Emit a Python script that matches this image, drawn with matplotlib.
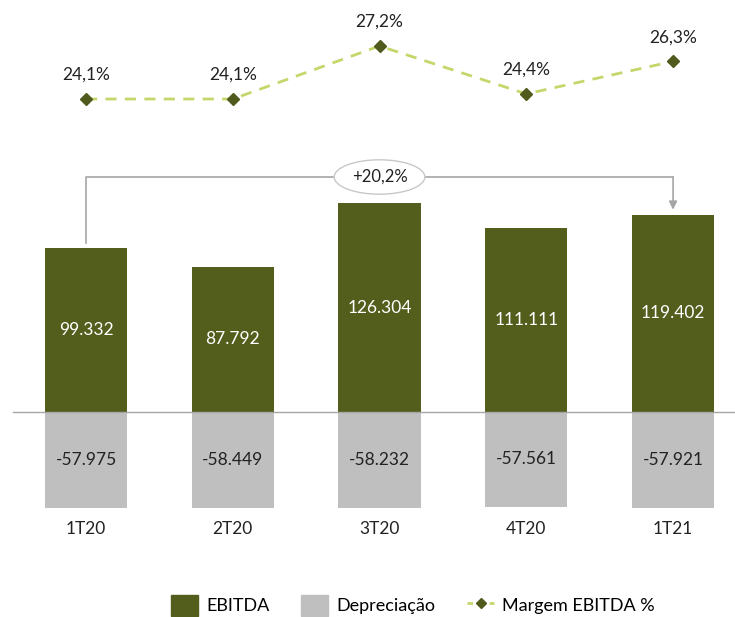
import matplotlib.pyplot as plt
from matplotlib.patches import Patch
from matplotlib.lines import Line2D
import numpy as np

plt.rcParams['font.family'] = ['Lato', 'DejaVu Sans']

# %% data
categories = ['1T20', '2T20', '3T20', '4T20', '1T21']
ebitda = [99.332, 87.792, 126.304, 111.111, 119.402]
depreciacao = [-57.975, -58.449, -58.232, -57.561, -57.921]
margem = [24.1, 24.1, 27.2, 24.4, 26.3]
variacao = '+20,2%'

c_ebitda = '#535E1C'
c_dep = '#BFBFBF'
c_line = '#C5D76B'
c_mark = '#4F5A1C'


def fmt_br(v):
    return '{:.3f}'.format(v)


def fmt_pct(v):
    return '{:.1f}%'.format(v).replace('.', ',')


# %%
fig = plt.figure(figsize=(7.35, 6.17), dpi=100)
ax = fig.add_axes([0, 0, 1, 1])
ax.set_xlim(-0.586, 4.422)
ax.set_ylim(-124.2, 249.5)
ax.axis('off')

x = np.arange(len(categories))
w = 0.56
ax.bar(x, ebitda, w, color=c_ebitda, zorder=2)
ax.bar(x, depreciacao, w, color=c_dep, zorder=2)
ax.axhline(0, xmin=0.018, xmax=1, color='#A6A6A6', lw=1, zorder=3)

for xi, e, d, cat in zip(x, ebitda, depreciacao, categories):
    ax.text(xi, e / 2, fmt_br(e), color='white', ha='center', va='center', fontsize=12.5)
    ax.text(xi, d / 2, fmt_br(d), color='#222222', ha='center', va='center', fontsize=12.5)
    ax.text(xi, -70.9, cat, color='#222222', ha='center', va='center', fontsize=12.5)

# bracket 1T20 -> 1T21
y_top = 142.3
ax.plot([x[0], x[0], x[-1]], [102.4, y_top, y_top], color='#A6A6A6', lw=1.2, zorder=1)
ax.annotate('', xy=(x[-1], 122.5), xytext=(x[-1], y_top),
            arrowprops=dict(arrowstyle='-|>', color='#A6A6A6', lw=1.2,
                            shrinkA=0, shrinkB=0, mutation_scale=12))
ax.text(x[2], y_top, variacao, ha='center', va='center', fontsize=12, color='#222222',
        bbox=dict(boxstyle='ellipse,pad=0.25', fc='white', ec='#C8C8C8', lw=1), zorder=4)

# margin line on its own scale
ax2 = fig.add_axes([0, 0, 1, 1])
ax2.set_xlim(ax.get_xlim())
ax2.set_ylim(-6.19, 29.89)
ax2.axis('off')
ax2.plot(x, margem, color=c_line, lw=2, ls=(0, (4, 3)), zorder=2)
ax2.plot(x, margem, ls='none', marker='D', ms=6, color=c_mark, zorder=3)
for xi, m in zip(x, margem):
    ax2.text(xi, m + 1.4, fmt_pct(m), ha='center', va='center', fontsize=12.5, color='#222222')

handles = [Patch(color=c_ebitda, label='EBITDA'),
           Patch(color=c_dep, label='Depreciação'),
           Line2D([0], [0], color=c_line, lw=2, ls=(0, (2, 2)), marker='D', ms=5,
                  mfc=c_mark, mec=c_mark, label='Margem EBITDA %')]
fig.legend(handles=handles, loc='center', bbox_to_anchor=(0.562, 0.019), ncol=3,
           frameon=False, fontsize=13, handlelength=1.5, handleheight=1.4,
           columnspacing=1.75, handletextpad=0.45)

fig.savefig('out.png', dpi=100)
